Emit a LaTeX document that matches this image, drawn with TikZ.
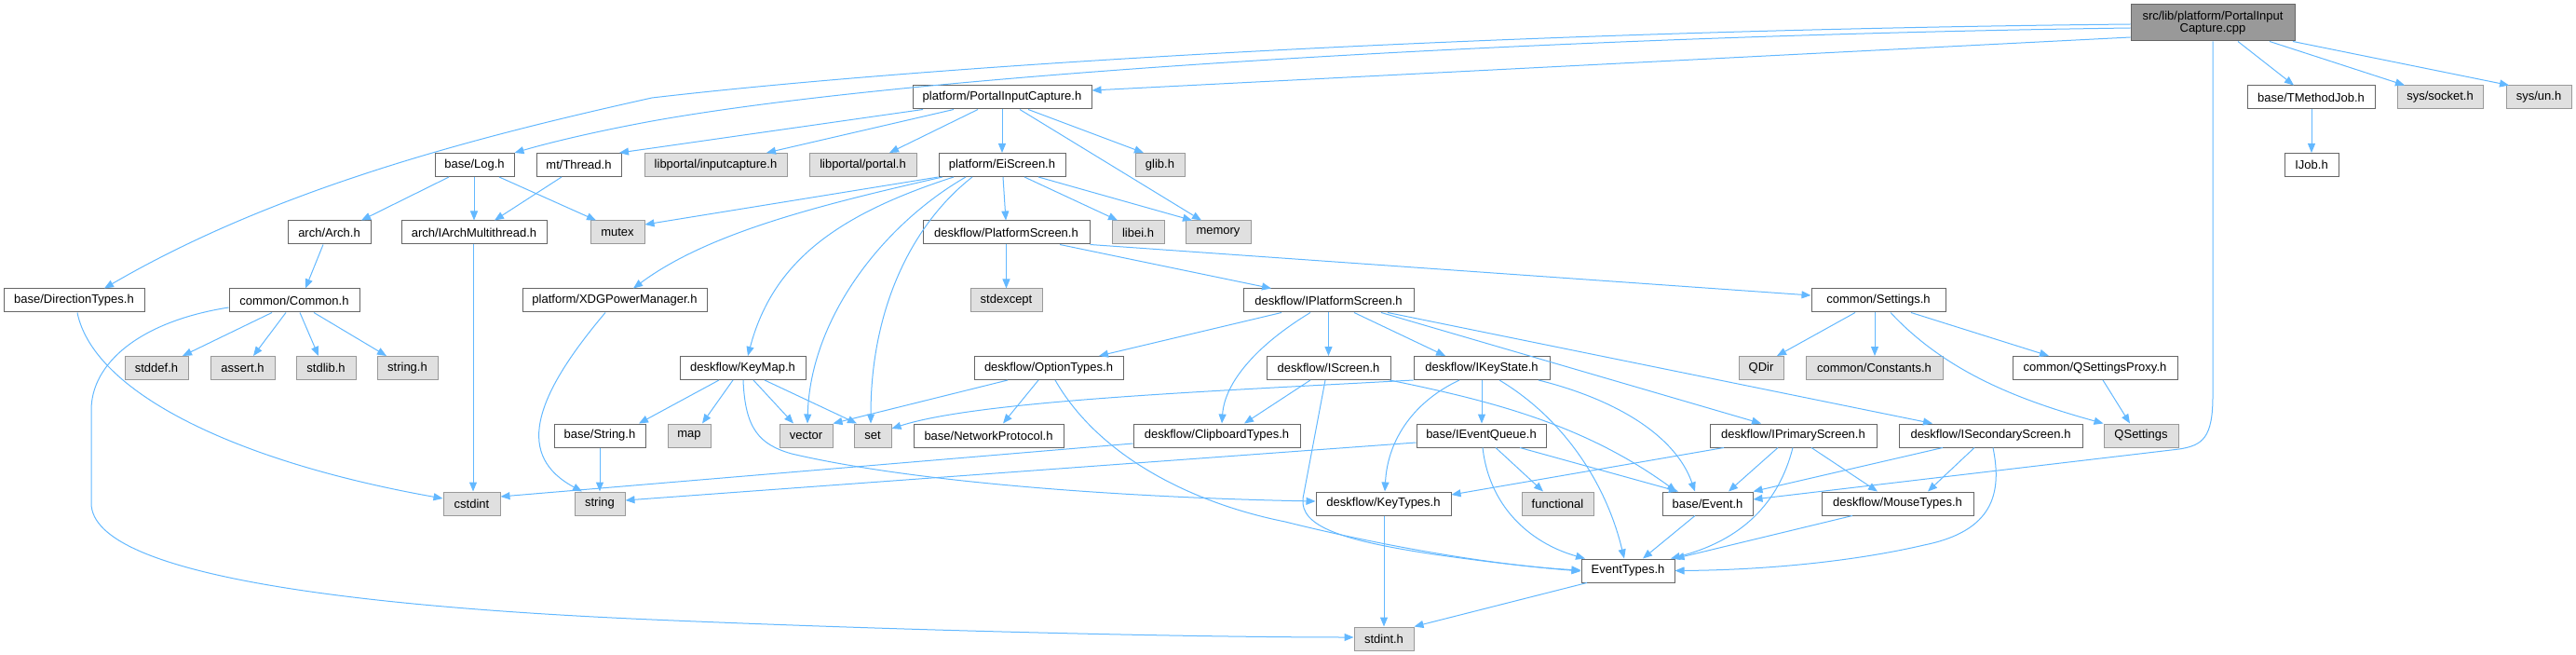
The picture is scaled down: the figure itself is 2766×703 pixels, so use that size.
\documentclass[tikz,border=0pt]{standalone}
\usepackage{fontspec}
\setmainfont{Liberation Sans}
\usetikzlibrary{arrows.meta}
\definecolor{edgec}{HTML}{63B8FF}
\definecolor{bdark}{HTML}{666666}
\definecolor{bgray}{HTML}{999999}
\definecolor{fgray}{HTML}{E0E0E0}
\begin{document}
\begin{tikzpicture}[x=1pt,y=-1pt,font=\fontsize{13}{13.5}\selectfont,
  wb/.style={draw=bdark, fill=white, line width=1pt, minimum height=25pt, inner sep=0pt},
  gb/.style={wb, draw=bgray, fill=fgray},
  tb/.style={draw=bdark, fill=bgray, line width=1pt, minimum height=39pt, inner sep=0pt, align=center},
  e/.style={draw=edgec, line width=1pt, -{Triangle[length=10pt,width=8pt]}}]
\useasboundingbox (0,0) rectangle (2766,703);
% row 0
\node[tb, minimum width=176pt] (top) at (2376,24.5) {src/lib/platform/PortalInput\\Capture.cpp};
% row 1
\node[wb, minimum width=192pt] (PIC) at (1076,104.5) {platform/PortalInputCapture.h};
\node[wb, minimum width=137pt] (TMJ) at (2481.5,104.5) {base/TMethodJob.h};
\node[gb, minimum width=92pt] (socket) at (2620,104.5) {sys/socket.h};
\node[gb, minimum width=70pt] (un) at (2726,104.5) {sys/un.h};
% row 2
\node[wb, minimum width=85pt] (Log) at (509.5,177) {base/Log.h};
\node[wb, minimum width=91pt] (Thread) at (621.5,177) {mt/Thread.h};
\node[gb, minimum width=153pt] (inputcapture) at (768.5,177) {libportal/inputcapture.h};
\node[gb, minimum width=115pt] (portal) at (926.5,177) {libportal/portal.h};
\node[wb, minimum width=136pt] (EiScreen) at (1076,177) {platform/EiScreen.h};
\node[gb, minimum width=53pt] (glib) at (1245.5,177) {glib.h};
\node[wb, minimum width=58pt] (IJob) at (2482,177) {IJob.h};
% row 3
\node[wb, minimum width=89pt] (Arch) at (353.5,249.5) {arch/Arch.h};
\node[wb, minimum width=156pt] (IArchMT) at (509,249.5) {arch/IArchMultithread.h};
\node[gb, minimum width=58pt] (mutex) at (663,249.5) {mutex};
\node[wb, minimum width=179pt] (PS) at (1080.5,249.5) {deskflow/PlatformScreen.h};
\node[gb, minimum width=56pt] (libei) at (1222,249.5) {libei.h};
\node[gb, minimum width=70pt] (memory) at (1308,249.5) {memory};
% row 4
\node[wb, minimum width=151pt] (DT) at (79.5,322.5) {base/DirectionTypes.h};
\node[wb, minimum width=140pt] (Common) at (316,322.5) {common/Common.h};
\node[wb, minimum width=198pt] (XDG) at (660,322.5) {platform/XDGPowerManager.h};
\node[gb, minimum width=77pt] (stdexcept) at (1080.5,322.5) {stdexcept};
\node[wb, minimum width=183pt] (IPS) at (1426.5,322.5) {deskflow/IPlatformScreen.h};
\node[wb, minimum width=144pt] (Settings) at (2017,322.5) {common/Settings.h};
% row 5
\node[gb, minimum width=68pt] (stddef) at (168,395) {stddef.h};
\node[gb, minimum width=69pt] (assert) at (260.5,395) {assert.h};
\node[gb, minimum width=64pt] (stdlib) at (350,395) {stdlib.h};
\node[gb, minimum width=65pt] (stringh) at (437.5,395) {string.h};
\node[wb, minimum width=135pt] (KeyMap) at (797.5,395) {deskflow/KeyMap.h};
\node[wb, minimum width=160pt] (OptionTypes) at (1126,395) {deskflow/OptionTypes.h};
\node[wb, minimum width=133pt] (IScreen) at (1426.5,395) {deskflow/IScreen.h};
\node[wb, minimum width=146pt] (IKeyState) at (1591,395) {deskflow/IKeyState.h};
\node[gb, minimum width=48pt] (QDir) at (1891,395) {QDir};
\node[gb, minimum width=147pt] (Constants) at (2012.5,395) {common/Constants.h};
\node[wb, minimum width=177pt] (QSP) at (2249.5,395) {common/QSettingsProxy.h};
% row 6
\node[wb, minimum width=98pt] (String) at (644,467.5) {base/String.h};
\node[gb, minimum width=46pt] (map) at (740,467.5) {map};
\node[gb, minimum width=57pt] (vector) at (865.5,467.5) {vector};
\node[gb, minimum width=40pt] (set) at (937,467.5) {set};
\node[wb, minimum width=161pt] (NP) at (1061.5,467.5) {base/NetworkProtocol.h};
\node[wb, minimum width=179pt] (Clip) at (1306.5,467.5) {deskflow/ClipboardTypes.h};
\node[wb, minimum width=139pt] (IEQ) at (1590.5,467.5) {base/IEventQueue.h};
\node[wb, minimum width=179pt] (IPrim) at (1925.5,467.5) {deskflow/IPrimaryScreen.h};
\node[wb, minimum width=197pt] (ISec) at (2137.5,467.5) {deskflow/ISecondaryScreen.h};
\node[gb, minimum width=80pt] (QSettings) at (2299,467.5) {QSettings};
% row 7
\node[gb, minimum width=61pt] (cstdint) at (506.5,540.5) {cstdint};
\node[gb, minimum width=54pt] (string) at (644,540.5) {string};
\node[wb, minimum width=145pt] (KeyTypes) at (1485.5,540.5) {deskflow/KeyTypes.h};
\node[gb, minimum width=77pt] (functional) at (1672.5,540.5) {functional};
\node[wb, minimum width=97pt] (Event) at (1833.5,540.5) {base/Event.h};
\node[wb, minimum width=163pt] (Mouse) at (2037.5,540.5) {deskflow/MouseTypes.h};
% row 8
\node[wb, minimum width=100pt] (ET) at (1748,612.5) {EventTypes.h};
% row 9
\node[gb, minimum width=64pt] (stdint) at (1486,685.5) {stdint.h};

% ---- edges from top
\draw[e] (top.west |- 0,40) -- (PIC.east |- 0,97);
\draw[e] (top.west |- 0,30) .. controls (1700,38) and (1000,76) .. (700,130) .. controls (640,141) and (590,153) .. (Log.north east);
\draw[e] (top.west |- 0,26) .. controls (1600,33) and (1000,70) .. (700,105) .. controls (520,145) and (300,200) .. (DT.north -| 112,0);
\draw[e] (top.south -| 2403,0) -- (TMJ.north -| 2463,0);
\draw[e] (top.south -| 2437,0) -- (socket.north -| 2582,0);
\draw[e] (top.south -| 2462,0) -- (un.north -| 2694,0);
\draw[e] (top.south) -- (2376,425) .. controls (2376,470) and (2365,478) .. (2340,482) -- (Event.east |- 0,536);
\draw[e] (TMJ.south -| 2482,0) -- (IJob.north -| 2482,0);
% ---- PIC
\draw[e] (PIC.south -| 991,0) -- (Thread.north -| 665,0);
\draw[e] (PIC.south -| 1024,0) -- (inputcapture.north -| 823,0);
\draw[e] (PIC.south -| 1050,0) -- (portal.north -| 955,0);
\draw[e] (PIC.south) -- (EiScreen.north);
\draw[e] (PIC.south -| 1104,0) -- (glib.north -| 1228,0);
\draw[e] (PIC.south -| 1095,0) -- (memory.north -| 1290,0);
% ---- Log, Thread, Arch
\draw[e] (Log.south -| 482,0) -- (Arch.north -| 388,0);
\draw[e] (Log.south -| 509,0) -- (IArchMT.north -| 509,0);
\draw[e] (Log.south -| 536,0) -- (mutex.north -| 640,0);
\draw[e] (Thread.south -| 603,0) -- (IArchMT.north -| 531,0);
\draw[e] (Arch.south -| 347,0) -- (Common.north -| 328,0);
\draw[e] (IArchMT.south -| 508,0) -- (cstdint.north -| 508,0);
\draw[e] (DT.south -| 83,0) .. controls (100,420) and (250,495) .. (cstdint.west |- 0,535);
% ---- Common
\draw[e] (Common.south -| 292,0) -- (stddef.north -| 196,0);
\draw[e] (Common.south -| 307,0) -- (assert.north -| 272,0);
\draw[e] (Common.south -| 322,0) -- (stdlib.north -| 342,0);
\draw[e] (Common.south -| 337,0) -- (stringh.north -| 415,0);
\draw[e] (Common.west |- 0,330) .. controls (150,345) and (98,390) .. (98,440) -- (98,540) .. controls (98,620) and (400,652) .. (700,665) .. controls (1000,678) and (1300,684) .. (stdint.west |- 0,684);
% ---- EiScreen
\draw[e] (EiScreen.south west) -- (mutex.east |- 0,241);
\draw[e] (EiScreen.south -| 1012,0) .. controls (880,220) and (760,250) .. (XDG.north -| 680,0);
\draw[e] (EiScreen.south -| 1024,0) .. controls (900,230) and (830,280) .. (KeyMap.north -| 803,0);
\draw[e] (EiScreen.south -| 1037,0) .. controls (950,240) and (870,340) .. (vector.north -| 867,0);
\draw[e] (EiScreen.south -| 1044,0) .. controls (980,240) and (935,330) .. (set.north -| 935,0);
\draw[e] (EiScreen.south -| 1077,0) -- (PS.north -| 1080,0);
\draw[e] (EiScreen.south -| 1100,0) -- (libei.north -| 1200,0);
\draw[e] (EiScreen.south -| 1115,0) -- (memory.north -| 1280,0);
% ---- PlatformScreen
\draw[e] (PS.south) -- (stdexcept.north);
\draw[e] (PS.south -| 1138,0) -- (IPS.north -| 1365,0);
\draw[e] (PS.south east) -- (Settings.west |- 0,317);
% ---- XDG
\draw[e] (XDG.south -| 650,0) .. controls (570,430) and (555,490) .. (string.north -| 625,0);
% ---- IPlatformScreen
\draw[e] (IPS.south -| 1376,0) -- (OptionTypes.north -| 1180,0);
\draw[e] (IPS.south -| 1407,0) .. controls (1350,370) and (1315,410) .. (Clip.north -| 1312,0);
\draw[e] (IPS.south) -- (IScreen.north);
\draw[e] (IPS.south -| 1454,0) -- (IKeyState.north -| 1552,0);
\draw[e] (IPS.south -| 1483,0) -- (IPrim.north -| 1891,0);
\draw[e] (IPS.south -| 1490,0) -- (ISec.north -| 2075,0);
% ---- IScreen
\draw[e] (IScreen.south -| 1407,0) -- (Clip.north -| 1336,0);
\draw[e] (IScreen.south -| 1492,0) .. controls (1600,430) and (1700,455) .. (Event.north -| 1800,0);
\draw[e] (IScreen.south -| 1423,0) -- (1399,535) .. controls (1396,565) and (1440,580) .. (1540,595) .. controls (1610,605) and (1660,610) .. (ET.west |- 0,613);
% ---- IKeyState
\draw[e] (IKeyState.south west) .. controls (1300,420) and (1050,430) .. (set.east |- 0,460);
\draw[e] (IKeyState.south) -- (IEQ.north -| 1591,0);
\draw[e] (IKeyState.south -| 1567,0) .. controls (1520,430) and (1490,470) .. (KeyTypes.north -| 1487,0);
\draw[e] (IKeyState.south -| 1610,0) .. controls (1680,450) and (1725,520) .. (ET.north -| 1744,0);
\draw[e] (IKeyState.south -| 1652,0) .. controls (1740,430) and (1800,470) .. (Event.north -| 1820,0);
% ---- IEventQueue
\draw[e] (IEQ.west |- 0,475) -- (string.east |- 0,537);
\draw[e] (IEQ.south -| 1606,0) -- (functional.north -| 1657,0);
\draw[e] (IEQ.south -| 1632,0) -- (Event.north -| 1802,0);
\draw[e] (IEQ.south -| 1592,0) .. controls (1600,550) and (1650,585) .. (ET.north -| 1702,0);
% ---- IPrimaryScreen
\draw[e] (IPrim.south -| 1851,0) -- (KeyTypes.east |- 0,531);
\draw[e] (IPrim.south -| 1909,0) -- (Event.north -| 1856,0);
\draw[e] (IPrim.south -| 1925,0) .. controls (1910,540) and (1870,580) .. (ET.north -| 1794,0);
\draw[e] (IPrim.south -| 1945,0) -- (Mouse.north -| 2016,0);
% ---- ISecondaryScreen
\draw[e] (ISec.south -| 2086,0) -- (Event.north east);
\draw[e] (ISec.south -| 2120,0) -- (Mouse.north -| 2070,0);
\draw[e] (ISec.south -| 2140,0) .. controls (2150,530) and (2140,570) .. (2066,585) .. controls (1980,605) and (1880,612) .. (ET.east);
% ---- bottom
\draw[e] (Mouse.south -| 1989,0) -- (ET.north east);
\draw[e] (Event.south -| 1820,0) -- (ET.north -| 1764,0);
\draw[e] (KeyTypes.south -| 1486,0) -- (stdint.north -| 1486,0);
\draw[e] (ET.south -| 1704,0) -- (stdint.north east);
% ---- KeyMap
\draw[e] (KeyMap.south -| 772,0) -- (String.north -| 686,0);
\draw[e] (KeyMap.south -| 787,0) -- (map.north -| 754,0);
\draw[e] (KeyMap.south -| 809,0) -- (vector.north -| 852,0);
\draw[e] (KeyMap.south -| 821,0) -- (set.north -| 920,0);
\draw[e] (KeyMap.south -| 798,0) .. controls (800,460) and (815,477) .. (850,487) .. controls (1000,522) and (1250,535) .. (KeyTypes.west |- 0,538);
\draw[e] (String.south) -- (string.north);
% ---- OptionTypes
\draw[e] (OptionTypes.south -| 1082,0) -- (vector.north east);
\draw[e] (OptionTypes.south -| 1115,0) -- (NP.north -| 1077,0);
\draw[e] (OptionTypes.south -| 1133,0) .. controls (1180,490) and (1280,540) .. (1380,560) .. controls (1500,590) and (1620,608) .. (ET.west |- 0,612);
% ---- ClipboardTypes
\draw[e] (Clip.west |- 0,476) -- (cstdint.east |- 0,533);
% ---- Settings
\draw[e] (Settings.south -| 1992,0) -- (QDir.north -| 1908,0);
\draw[e] (Settings.south -| 2013,0) -- (Constants.north -| 2013,0);
\draw[e] (Settings.south -| 2052,0) -- (QSP.north -| 2200,0);
\draw[e] (Settings.south -| 2030,0) .. controls (2090,400) and (2170,430) .. (QSettings.north west);
\draw[e] (QSP.south -| 2258,0) -- (QSettings.north -| 2287,0);
\end{tikzpicture}
\end{document}
